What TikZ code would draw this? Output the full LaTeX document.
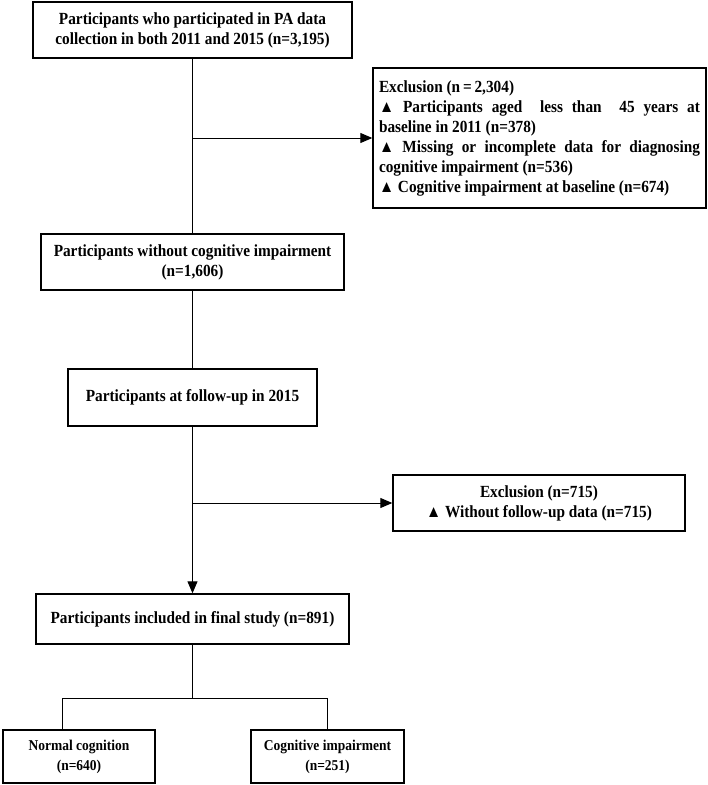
\documentclass[tikz,border=0pt]{standalone}
\usepackage{fontspec}
\setmainfont{Liberation Serif}[FakeStretch=0.9]
\usetikzlibrary{arrows.meta}

\begin{document}
\begin{tikzpicture}[x=1pt, y=-1pt,
        box/.style={draw, line width=1.4pt, align=center, inner sep=0pt,
            font=\bfseries\fontsize{17pt}{20pt}\selectfont},
        smallbox/.style={box, font=\bfseries\fontsize{15pt}{20pt}\selectfont},
        link/.style={line width=1pt},
        arr/.style={link, -{Triangle[length=12pt, width=10pt]}}]
            \useasboundingbox (0, 0) rectangle (708, 785);

            \node[box, minimum width=319pt, minimum height=56pt] (all) at (192.5, 30) {Participants who participated in PA data\\collection in both 2011 and 2015 (n=3,195)};
            \node[box, text width=321pt, align=justify, minimum width=333pt, minimum height=140pt] (excl1) at (539.5, 138) {Exclusion (n\,=\,2,304)\\
                ▲ Participants aged \ less than \ 45 years at\linebreak baseline in 2011 (n=378)\\
                ▲ Missing or incomplete data for diagnosing\linebreak cognitive impairment (n=536)\\
                ▲ Cognitive impairment at baseline (n=674)};
            \node[box, minimum width=303pt, minimum height=56pt] (nocog) at (192.5, 262) {Participants without cognitive impairment\\(n=1,606)};
            \node[box, minimum width=249pt, minimum height=57pt] (fu) at (192.5, 397.5) {Participants at follow-up in 2015};
            \node[box, minimum width=292pt, minimum height=56pt] (excl2) at (539, 503) {Exclusion (n=715)\\▲ Without follow-up data (n=715)};
            \node[box, minimum width=313pt, minimum height=50pt] (final) at (192.5, 619) {Participants included in final study (n=891)};
            \node[smallbox, minimum width=152pt, minimum height=53pt] (normal) at (79, 756.5) {Normal cognition\\(n=640)};
            \node[smallbox, minimum width=153pt, minimum height=53pt] (cogimp) at (327.5, 756.5) {Cognitive impairment\\(n=251)};

            \coordinate (j1) at (all.south |- excl1.west);
            \coordinate (j2) at (fu.south |- excl2.west);
            \coordinate (split) at (192.5, 698);
            \coordinate (left) at (62, 698);
            \coordinate (right) at (cogimp.north |- split);

            \draw[link] (all) -- (nocog);
            \draw[arr] (j1) -- (excl1);
            \draw[link] (nocog) -- (fu);
            \draw[arr] (fu) -- (final);
            \draw[arr] (j2) -- (excl2);

            \draw[link] (final) -- (split);
            \draw[link] (left |- normal.north) -- (left) -- (right) -- (cogimp);
        \end{tikzpicture}
\end{document}
